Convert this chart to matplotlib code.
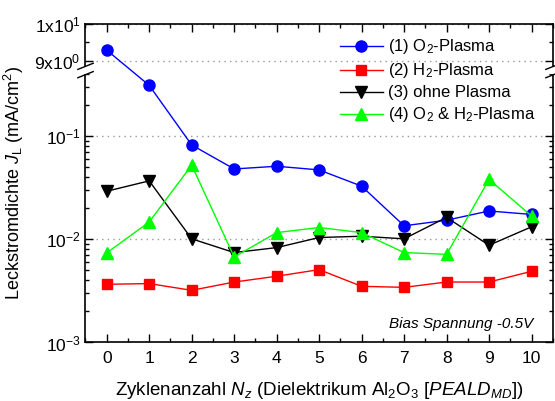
import numpy as np
import matplotlib
matplotlib.use("Agg")
import matplotlib.pyplot as plt
from matplotlib.ticker import FixedLocator, FixedFormatter, MultipleLocator
from matplotlib.path import Path

plt.rcParams['font.family'] = ['Liberation Sans', 'DejaVu Sans']
plt.rcParams['mathtext.fontset'] = 'custom'
plt.rcParams['mathtext.rm'] = 'Liberation Sans'
plt.rcParams['mathtext.it'] = 'Liberation Sans:italic'
plt.rcParams['mathtext.bf'] = 'Liberation Sans:bold'

# Zyklenanzahl und Leckstromdichten (mA/cm^2)
zyklen = list(range(11))
o2_plasma = [9.29, 0.31, 0.082, 0.048, 0.051, 0.047, 0.0327, 0.0135, 0.0153, 0.0188, 0.0174]
h2_plasma = [0.00366, 0.00372, 0.0032, 0.00385, 0.00438, 0.00508, 0.0035, 0.00342, 0.00385, 0.00385, 0.00489]
ohne_plasma = [0.0292, 0.0368, 0.0101, 0.00743, 0.0083, 0.0104, 0.0107, 0.0101, 0.0163, 0.00875, 0.0132]
o2_h2_plasma = [0.00737, 0.0147, 0.0522, 0.00673, 0.0116, 0.013, 0.0116, 0.00743, 0.00714, 0.038, 0.0168]

# Achsenbruch: unten logarithmisch bis yb, oben linear ab yt
yb, yt = 0.437, 8.75
fb = np.log10(yb)
k = 0.356      # Dekaden pro Einheit im oberen Teil
eps = 1e-9


def fwd(y):
    y = np.asarray(y, dtype=float)
    with np.errstate(all='ignore'):
        lo = np.log10(y)
        mid = fb + (y - yb) / (yt - yb) * eps
        hi = fb + eps + (y - yt) * k
        return np.where(y <= yb, lo, np.where(y < yt, mid, hi))


def inv(f):
    f = np.asarray(f, dtype=float)
    with np.errstate(all='ignore'):
        lo = 10.0 ** f
        mid = yb + (f - fb) / eps * (yt - yb)
        hi = yt + (f - fb - eps) / k
        return np.where(f <= fb, lo, np.where(f < fb + eps, mid, hi))


fig = plt.figure(figsize=(5.55, 4.01), dpi=100)
ax = fig.add_axes([0.154, 0.146, 0.842, 0.794])
ax.set_yscale('function', functions=(fwd, inv))

ax.plot(zyklen, o2_plasma, '-o', color='#0000FF', lw=1, ms=8, label='(1) O$_2$-Plasma', zorder=3)
ax.plot(zyklen, h2_plasma, '-s', color='#FF0000', lw=1, ms=7, label='(2) H$_2$-Plasma', zorder=3)
ax.plot(zyklen, ohne_plasma, '-v', color='black', lw=1, ms=8.5, label='(3) ohne Plasma', zorder=4)
ax.plot(zyklen, o2_h2_plasma, '-^', color='#00FF00', lw=1, ms=8.5, label='(4) O$_2$ & H$_2$-Plasma', zorder=4)

ax.set_xlim(-0.5, 10.5)
ax.set_ylim(1e-3, 10)

ax.xaxis.set_major_locator(MultipleLocator(1))
ax.xaxis.set_minor_locator(MultipleLocator(0.5))

ytick_vals = [1e-3, 1e-2, 1e-1, 9, 10]
ytick_txt = ['10$^{-3}$', '10$^{-2}$', '10$^{-1}$', '9x10$^0$', '1x10$^1$']
ax.yaxis.set_major_locator(FixedLocator(ytick_vals))
ax.yaxis.set_major_formatter(FixedFormatter(ytick_txt))
minor = [m * 10.0 ** e for e in (-3, -2) for m in range(2, 10)] + [0.2, 0.3, 0.4, 9.5]
ax.yaxis.set_minor_locator(FixedLocator(minor))

ax.tick_params(which='both', direction='in', top=True, right=True, labelsize=12.5, width=1)
ax.tick_params(which='major', length=6)
ax.tick_params(which='minor', length=3)
ax.tick_params(axis='x', pad=6)
for s in ax.spines.values():
    s.set_linewidth(1.2)

# gepunktete Hilfslinien
ax.yaxis.grid(True, which='major', linestyle=(0, (1, 3)), color='#999999', lw=1)
ax.set_axisbelow(True)

# Bruchzeichen an beiden Seiten
slash = Path([(-1, -0.9), (1, -0.1), (-1, 0.1), (1, 0.9)],
             [Path.MOVETO, Path.LINETO, Path.MOVETO, Path.LINETO])
ytr = ax.get_yaxis_transform()
for xa in (0, 1):
    ax.plot([xa], [yb], marker='s', ms=4, color='white', mec='white',
            transform=ytr, clip_on=False, zorder=6)
    ax.plot([xa], [yb], marker=slash, ms=12, color='black', mew=1,
            transform=ytr, clip_on=False, zorder=7)

ax.set_xlabel('Zyklenanzahl $\\mathit{N}_\\mathit{z}$ (Dielektrikum Al$_2$O$_3$ [$\\mathit{PEALD}_{\\mathit{MD}}$])',
              fontsize=13.5, labelpad=10)
ax.set_ylabel('Leckstromdichte $\\mathit{J}_\\mathrm{L}$ (mA/cm$^2$)', fontsize=13, labelpad=6)

ax.text(0.958, 0.035, 'Bias Spannung -0.5V', transform=ax.transAxes, ha='right', va='bottom',
        fontsize=11, style='italic')

ax.legend(loc='upper right', bbox_to_anchor=(0.995, 1.005), frameon=False, fontsize=12,
          handlelength=2.6, labelspacing=0.3, numpoints=1, handletextpad=0.3)

fig.savefig('out.png', dpi=100)
